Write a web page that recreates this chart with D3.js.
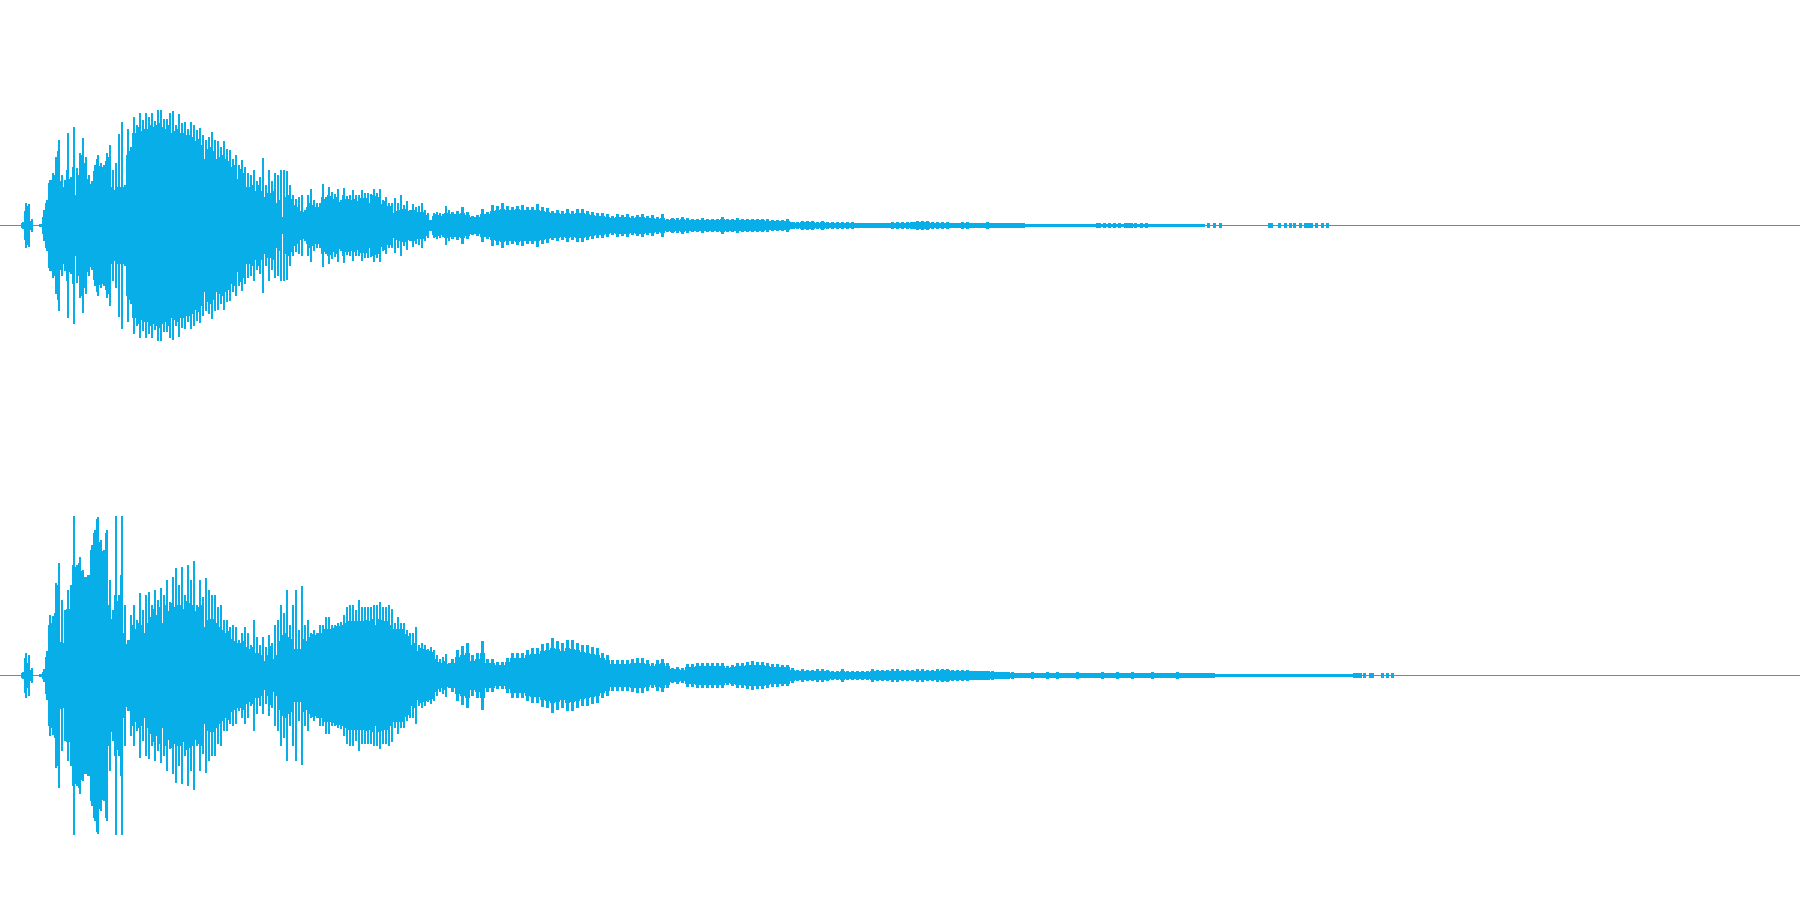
<!DOCTYPE html>
<html>
<head>
<meta charset="utf-8">
<style>html,body{margin:0;padding:0;background:#fff;overflow:hidden}svg{display:block}</style>
<script src="https://cdn.jsdelivr.net/npm/d3@7"></script>
</head>
<body>
<svg id="chart" width="1800" height="900"></svg>
<script>
// Waveform envelopes. Amplitude units: 160 = full scale.
const topHeadPeak = [3,22,21,6,0,0,1,15,25,45,52,68,85,50,45,92,48,98,57,72,87,68,50,44,60,70,62,60,72,80,55,62,91,103,40,96,78,108,100,112,105,112,108,112,104,115,115,106,106,112,114,100,111,102,103,96,103,100,95,97,90,85,88,93,85,84,78,84,76,75,66,70,60,65,58,52,50,55,44,48,67,40,55,44,52,50,55,55,54,40,30,26,28,30,15,30,36,25,22,22,41,28,38,33,31,36,25,37,29,30,35,30,30,35,32,32,31,36,32,36,25,28,22,22,27,22,30,20,24,15,21,18,19,22,15,12,5,12,13,12,11,19,15];
const topHeadFloor = [2,14,19,4,0,0,1,8,22,42,45,50,74,44,38,55,46,58,30,50,70,62,46,41,54,66,59,58,64,68,38,35,38,38,38,70,74,92,92,98,94,96,96,100,98,100,102,98,96,100,92,94,96,92,92,90,90,88,84,86,80,66,76,78,74,66,68,70,66,64,58,60,46,56,52,38,38,40,34,40,34,28,32,32,34,22,25,8,28,30,26,20,18,14,13,18,22,20,18,18,28,26,30,29,26,28,23,30,26,26,25,26,24,27,27,27,22,30,29,28,21,24,19,19,12,14,15,16,16,14,15,15,13,13,13,10,5,9,11,10,9,12,12];
const bottomHeadPeak = [3,22,20,7,0,0,1,6,24,60,59,92,112,75,65,85,90,159,110,118,105,98,100,130,145,158,135,125,145,95,65,159,80,159,70,35,60,70,55,82,65,80,83,70,85,75,87,80,95,73,98,107,90,108,80,110,95,114,70,95,78,97,85,80,80,68,70,55,55,48,50,48,35,42,48,42,30,55,38,30,38,28,40,32,50,55,70,62,85,50,70,85,45,89,50,55,42,45,42,50,50,58,58,50,50,52,53,60,68,70,70,65,75,68,68,68,68,70,70,73,68,68,70,66,52,58,52,52,45,42,42,48,30,32,30,26,28,25,20,16,18,21,12];
const bottomHeadFloor = [2,17,12,5,0,0,1,3,18,50,52,62,90,33,32,66,66,110,108,112,104,98,100,125,142,156,133,124,142,70,56,80,74,100,42,31,35,50,46,52,50,42,52,58,66,60,68,52,70,64,72,68,70,70,66,74,72,70,64,68,70,48,55,56,56,52,48,45,42,44,36,34,32,32,34,28,26,28,22,22,20,14,20,29,16,20,34,40,42,38,36,26,26,26,36,34,38,41,40,42,42,46,46,46,47,49,49,50,52,54,54,54,54,54,54,55,54,56,50,56,55,54,54,50,46,46,46,46,41,39,30,32,24,27,26,25,24,23,16,13,12,14,11];
const topBodyPeak = [13,14,18,13,9,10,16,13,20,19,22,19,18,19,20,18,18,21,18,17,14,15,14,16,14,16,16,14,13,12,12,11,9,11,10,11,9,10,11,9,10,8,11,6,7,7,8,7,6,6,7,6,6,6,8,6,6,7,6,6,6,6,6,6,5,5,5,6,3,3,4,4,4,3,4,3,3,3,3,3,3,2,2,2,2,2,2,2,3,3,3,3,3,4,4,4,3,3,3,3,2,2,3,3,2,2,2,3,2,2,2,2,2,2,2,1,1,1,1,1,1,1,1,1,1,1,1,1,1,1,1,1,1,1,1,1,1,1,1,1,1,1,1,1,1,1,1,1,1,1,1];
const topBodyFloor = [11,11,12,10,8,8,11,11,14,15,16,15,15,16,15,15,15,15,14,13,12,12,11,12,11,12,12,11,10,9,9,8,7,8,8,8,7,8,8,7,7,6,7,5,6,5,6,5,5,5,5,5,5,5,6,5,5,5,5,5,5,5,5,4,4,4,4,4,3,2,3,3,3,2,3,2,2,2,2,2,2,2,2,2,2,2,2,2,2,2,2,2,3,3,3,3,2,2,2,2,2,2,2,2,2,2,2,2,2,2,2,2,2,2,2,1,1,1,1,1,1,1,1,1,1,1,1,1,1,1,1,1,1,1,1,1,1,1,1,1,1,1,1,1,1,1,1,1,1,1,1];
const bottomBodyPeak = [16,25,29,32,20,22,34,16,16,13,13,17,22,22,22,25,27,27,31,32,37,34,32,35,35,32,30,30,28,27,22,20,15,15,15,15,16,17,17,15,12,15,16,12,7,8,7,11,11,12,12,12,12,12,12,9,10,12,12,13,14,13,13,12,11,11,10,10,7,5,6,5,5,6,6,5,4,4,6,4,4,4,4,4,6,5,5,5,6,6,5,5,5,6,6,5,5,6,6,6,5,5,5,5,4,4,4,4,4,3,3,3,3,2,2,2,3,2,2,3,2,3,2,2,2,3,2,2,2,2,3,2,2,3,2,2,3,2,2,2,3,2,2,2,2,3,2,2,2,2,2,2,2,1,1,1,1,1,1,1,1,1,1,1,1,1,1,1,1,1,1,1,1,1,1,1,1,1,1,1,1];
const bottomBodyFloor = [12,18,20,22,14,16,22,12,12,10,10,13,17,17,17,20,21,21,24,25,27,26,24,27,26,25,23,22,21,20,17,15,11,11,11,11,12,12,12,11,9,11,12,9,6,6,5,8,8,9,9,9,9,9,9,7,8,9,9,10,10,10,10,9,8,8,8,8,5,4,4,4,4,4,4,4,3,3,4,3,3,3,3,3,4,4,4,4,4,4,4,4,4,4,4,4,4,4,5,5,4,4,4,4,4,4,4,4,3,3,3,3,2,2,2,2,2,2,2,2,2,2,2,2,2,2,2,2,2,2,2,2,2,2,2,2,2,2,2,2,2,2,2,2,2,2,2,2,2,2,2,2,2,1,1,1,1,1,1,1,1,1,1,1,1,1,1,1,1,1,1,1,1,1,1,1,1,1,1,1,1];
const topBlips = [1097,1099,1104,1109,1114,1119,1125,1127,1129,1131,1135,1141,1146,1208,1214,1220,1269,1271,1279,1285,1290,1294,1300,1305,1307,1309,1311,1316,1322,1327];
const bottomBlips = [1354,1356,1358,1360,1364,1370,1372,1382,1387,1392];

const headStart = 21, headStep = 3, headPeakWidth = 2, bodyStart = 450, bodyStep = 5, bodyPeakWidth = 3, blipWidth = 3;
const colour = "#07aee7";
const width = 1800, height = 900;

const svg = d3.select("#chart");
svg.append("rect").attr("width", width).attr("height", height).attr("fill", "#fff");

const x = d3.scaleLinear().domain([0, width]).range([0, width]);

const channels = [
  {centre: 225.5, headPeak: topHeadPeak, headFloor: topHeadFloor, bodyPeak: topBodyPeak, bodyFloor: topBodyFloor, blips: topBlips},
  {centre: 675.5, headPeak: bottomHeadPeak, headFloor: bottomHeadFloor, bodyPeak: bottomBodyPeak, bodyFloor: bottomBodyFloor, blips: bottomBlips}
];

channels.forEach(ch => {
  const y = d3.scaleLinear().domain([-160, 160]).range([ch.centre + 160, ch.centre - 160]);
  const g = svg.append("g").attr("fill", colour).attr("shape-rendering", "crispEdges");

  const bars = (cls, data, amp, left, w) => {
    g.selectAll("rect." + cls).data(data).join("rect")
      .attr("class", cls)
      .attr("x", left)
      .attr("width", w)
      .attr("y", d => y(amp(d)) - 0.5)
      .attr("height", d => y(-amp(d)) - y(amp(d)) + 1);
  };

  // zero line
  g.append("rect").attr("x", x(0)).attr("width", x(width) - x(0))
    .attr("y", y(0) - 0.5).attr("height", 1);

  bars("hfloor", ch.headFloor, d => d, (d, i) => x(headStart + i * headStep), x(headStep) - x(0));
  bars("hpeak", ch.headPeak, d => d, (d, i) => x(headStart + 1 + i * headStep), x(headPeakWidth) - x(0));
  bars("bfloor", ch.bodyFloor, d => d, (d, i) => x(bodyStart + i * bodyStep), x(bodyStep) - x(0));
  bars("bpeak", ch.bodyPeak, d => d, (d, i) => x(bodyStart + 1 + i * bodyStep), x(bodyPeakWidth) - x(0));
  bars("blip", ch.blips, () => 2, d => x(d - 1), x(blipWidth) - x(0));
});
</script>
</body>
</html>
